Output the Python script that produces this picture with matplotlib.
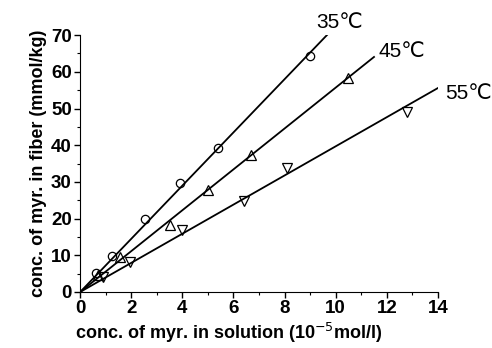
import matplotlib.pyplot as plt
import numpy as np
from matplotlib.ticker import MultipleLocator

plt.rcParams["font.family"] = ["Liberation Sans", "DejaVu Sans"]

# 35 degC
x35 = [0.6, 1.25, 2.55, 3.9, 5.4, 9.0]
y35 = [5.2, 9.8, 19.9, 29.7, 39.3, 64.2]
# 45 degC
x45 = [0.7, 1.55, 3.5, 5.0, 6.7, 10.5]
y45 = [4.6, 9.6, 18.3, 27.8, 37.3, 58.3]
# 55 degC
x55 = [0.9, 1.95, 4.0, 6.4, 8.1, 12.8]
y55 = [4.1, 8.2, 16.9, 24.8, 33.8, 49.0]

# fitted lines: slope and end point
fits = [(7.25, 9.7), (5.57, 11.5), (3.97, 14.0)]
labels = ["35℃", "45℃", "55℃"]
label_pos = [(10.15, 73.5), (12.6, 65.5), (15.2, 54.0)]

fig = plt.figure(figsize=(4.92, 3.48), dpi=100)
ax = fig.add_axes([0.163, 0.161, 0.727, 0.738])

ax.plot(x35, y35, "o", mfc="none", mec="black", ms=6, mew=0.9)
ax.plot(x45, y45, "^", mfc="none", mec="black", ms=7, mew=0.9)
ax.plot(x55, y55, "v", mfc="none", mec="black", ms=7, mew=0.9)

for (slope, xend) in fits:
    xs = np.array([0, xend])
    ax.plot(xs, slope * xs, color="black", lw=1.3)

for lab, (lx, ly) in zip(labels, label_pos):
    ax.text(lx, ly, lab, fontsize=15, ha="center", va="center",
            family=["Liberation Sans Narrow", "Liberation Sans", "DejaVu Sans"],
            clip_on=False)

ax.set_xlim(0, 14)
ax.set_ylim(0, 70)
ax.xaxis.set_major_locator(MultipleLocator(2))
ax.xaxis.set_minor_locator(MultipleLocator(1))
ax.yaxis.set_major_locator(MultipleLocator(10))
ax.yaxis.set_minor_locator(MultipleLocator(5))
ax.tick_params(which="major", direction="out", length=4, width=1,
               labelsize=13.5, pad=2)
ax.tick_params(which="minor", direction="out", length=2, width=0.8)
for t in ax.get_xticklabels() + ax.get_yticklabels():
    t.set_fontweight("bold")
ax.spines["top"].set_visible(False)
ax.spines["right"].set_visible(False)

ax.set_xlabel("conc. of myr. in solution (10$^{-5}$mol/l)", fontsize=13,
              fontweight="bold")
ax.xaxis.set_label_coords(0.416, -0.112)
ax.set_ylabel("conc. of myr. in fiber (mmol/kg)", fontsize=13,
              fontweight="bold", labelpad=3)

fig.savefig("out.png", dpi=100)
